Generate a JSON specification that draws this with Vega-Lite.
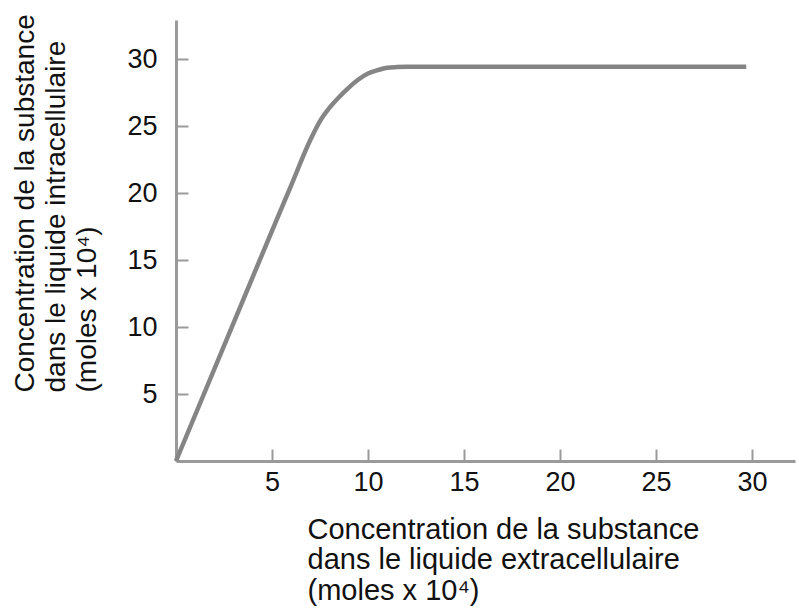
{
  "$schema": "https://vega.github.io/schema/vega-lite/v6.json",
  "width": 619,
  "height": 441,
  "autosize": {"type": "none"},
  "padding": {"left": 176, "top": 20, "right": 4, "bottom": 151},
  "background": "white",
  "config": {
    "view": {"stroke": null},
    "font": "Liberation Sans",
    "axis": {
      "grid": false,
      "domainColor": "#9a9a9a",
      "domainWidth": 3,
      "tickColor": "#9a9a9a",
      "tickWidth": 2,
      "tickSize": -12,
      "labelFont": "Liberation Sans",
      "labelFontSize": 27,
      "labelColor": "#111111",
      "titleFont": "Liberation Sans",
      "titleFontWeight": "normal",
      "titleColor": "#111111"
    }
  },
  "data": {
    "values": [
      {"ext": 0, "intra": 0},
      {"ext": 5, "intra": 17.2},
      {"ext": 6, "intra": 20.6},
      {"ext": 7, "intra": 24.0},
      {"ext": 7.5, "intra": 25.4},
      {"ext": 8, "intra": 26.4},
      {"ext": 8.5, "intra": 27.2},
      {"ext": 9, "intra": 27.9},
      {"ext": 9.5, "intra": 28.5},
      {"ext": 10, "intra": 28.95},
      {"ext": 10.5, "intra": 29.2},
      {"ext": 11, "intra": 29.38},
      {"ext": 11.5, "intra": 29.43},
      {"ext": 12, "intra": 29.45},
      {"ext": 20, "intra": 29.45},
      {"ext": 29.7, "intra": 29.45}
    ]
  },
  "mark": {"type": "line", "color": "#858585", "strokeWidth": 4.5, "interpolate": "monotone"},
  "encoding": {
    "x": {
      "field": "ext",
      "type": "quantitative",
      "scale": {"domain": [0, 32.24], "nice": false, "zero": false},
      "axis": {
        "values": [5, 10, 15, 20, 25, 30],
        "labelPadding": 20,
        "title": ["Concentration de la substance", "dans le liquide extracellulaire", "(moles x 10⁴)"],
        "titleFontSize": 29,
        "titleLineHeight": 30.5,
        "titleAnchor": null,
        "titleAlign": "left",
        "titleBaseline": "top",
        "titleX": 131,
        "titleY": 54
      }
    },
    "y": {
      "field": "intra",
      "type": "quantitative",
      "scale": {"domain": [0, 32.95], "nice": false, "zero": false},
      "axis": {
        "values": [5, 10, 15, 20, 25, 30],
        "labelPadding": 31,
        "title": ["Concentration de la substance", "dans le liquide intracellulaire", "(moles x 10⁴)"],
        "titleFontSize": 28,
        "titleLineHeight": 31,
        "titleAnchor": null,
        "titleAngle": -90,
        "titleAlign": "left",
        "titleBaseline": "top",
        "titleX": -165,
        "titleY": 372
      }
    }
  }
}
